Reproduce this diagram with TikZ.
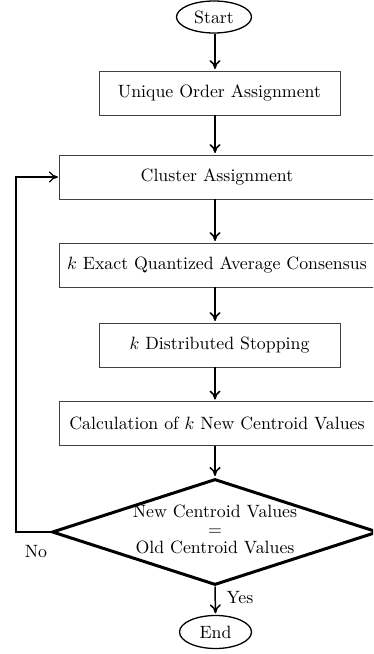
\documentclass[tikz,border=0pt]{standalone}
\usepackage{graphicx}
\usetikzlibrary{shapes.geometric,arrows.meta}
\newcommand{\bigtxt}[1]{\scalebox{1.78}{#1}}
\tikzset{
  procbox/.style={draw=black!75, line width=0.9pt, rectangle, minimum height=44pt, inner sep=2pt},
  termnode/.style={draw, ellipse, line width=1.3pt, inner sep=0pt},
  decision/.style={draw, diamond, line width=3pt, inner sep=0pt, minimum width=326pt, minimum height=106pt},
  flow/.style={line width=1.5pt, -{To[length=9pt,width=11pt]}, shorten >=1.5pt},
  lbl/.style={inner sep=0pt}
}
\begin{document}
\begin{tikzpicture}[x=1pt,y=-1pt]
\clip (0,0) rectangle (373,654);
\coordinate (ax) at (215,0);
\coordinate (loopx) at (16,0);
\node[termnode, minimum width=75pt, minimum height=32pt] (start) at (214,17) {\bigtxt{Start}};
\node[procbox, minimum width=241pt] (uoa) at (219.5,93) {\bigtxt{Unique Order Assignment}};
\node[procbox, minimum width=316pt] (clu) at (217,177) {\bigtxt{Cluster Assignment}};
\node[procbox, minimum width=316pt] (keq) at (217,265) {\bigtxt{$k$ Exact Quantized Average Consensus}};
\node[procbox, minimum width=241pt] (kds) at (219.5,345) {\bigtxt{$k$ Distributed Stopping}};
\node[procbox, minimum width=316pt] (calc) at (217,423.5) {\bigtxt{Calculation of $k$ New Centroid Values}};
\node[decision] (dec) at (215,532) {};
\node[lbl] (dectext) at (dec.center) {\bigtxt{\renewcommand{\arraystretch}{0.82}\begin{tabular}{@{}c@{}}New Centroid Values\\=\\Old Centroid Values\end{tabular}}};
\node[termnode, minimum width=72pt, minimum height=33pt] (end) at (215.5,632) {\bigtxt{End}};
\node[lbl] (no) at (36,552) {\bigtxt{No}};
\node[lbl] (yes) at (240,598) {\bigtxt{Yes}};

\draw[flow] (ax |- start.south) -- (ax |- uoa.north);
\draw[flow] (ax |- uoa.south) -- (ax |- clu.north);
\draw[flow] (ax |- clu.south) -- (ax |- keq.north);
\draw[flow] (ax |- keq.south) -- (ax |- kds.north);
\draw[flow] (ax |- kds.south) -- (ax |- calc.north);
\draw[flow] (ax |- calc.south) -- (dec.north);
\draw[flow] (dec.south) -- (end.north);
\draw[flow, line width=1.3pt, shorten >=0.5pt] (dec.west) -- (dec.west -| loopx) |- (clu.west);
\end{tikzpicture}
\end{document}
